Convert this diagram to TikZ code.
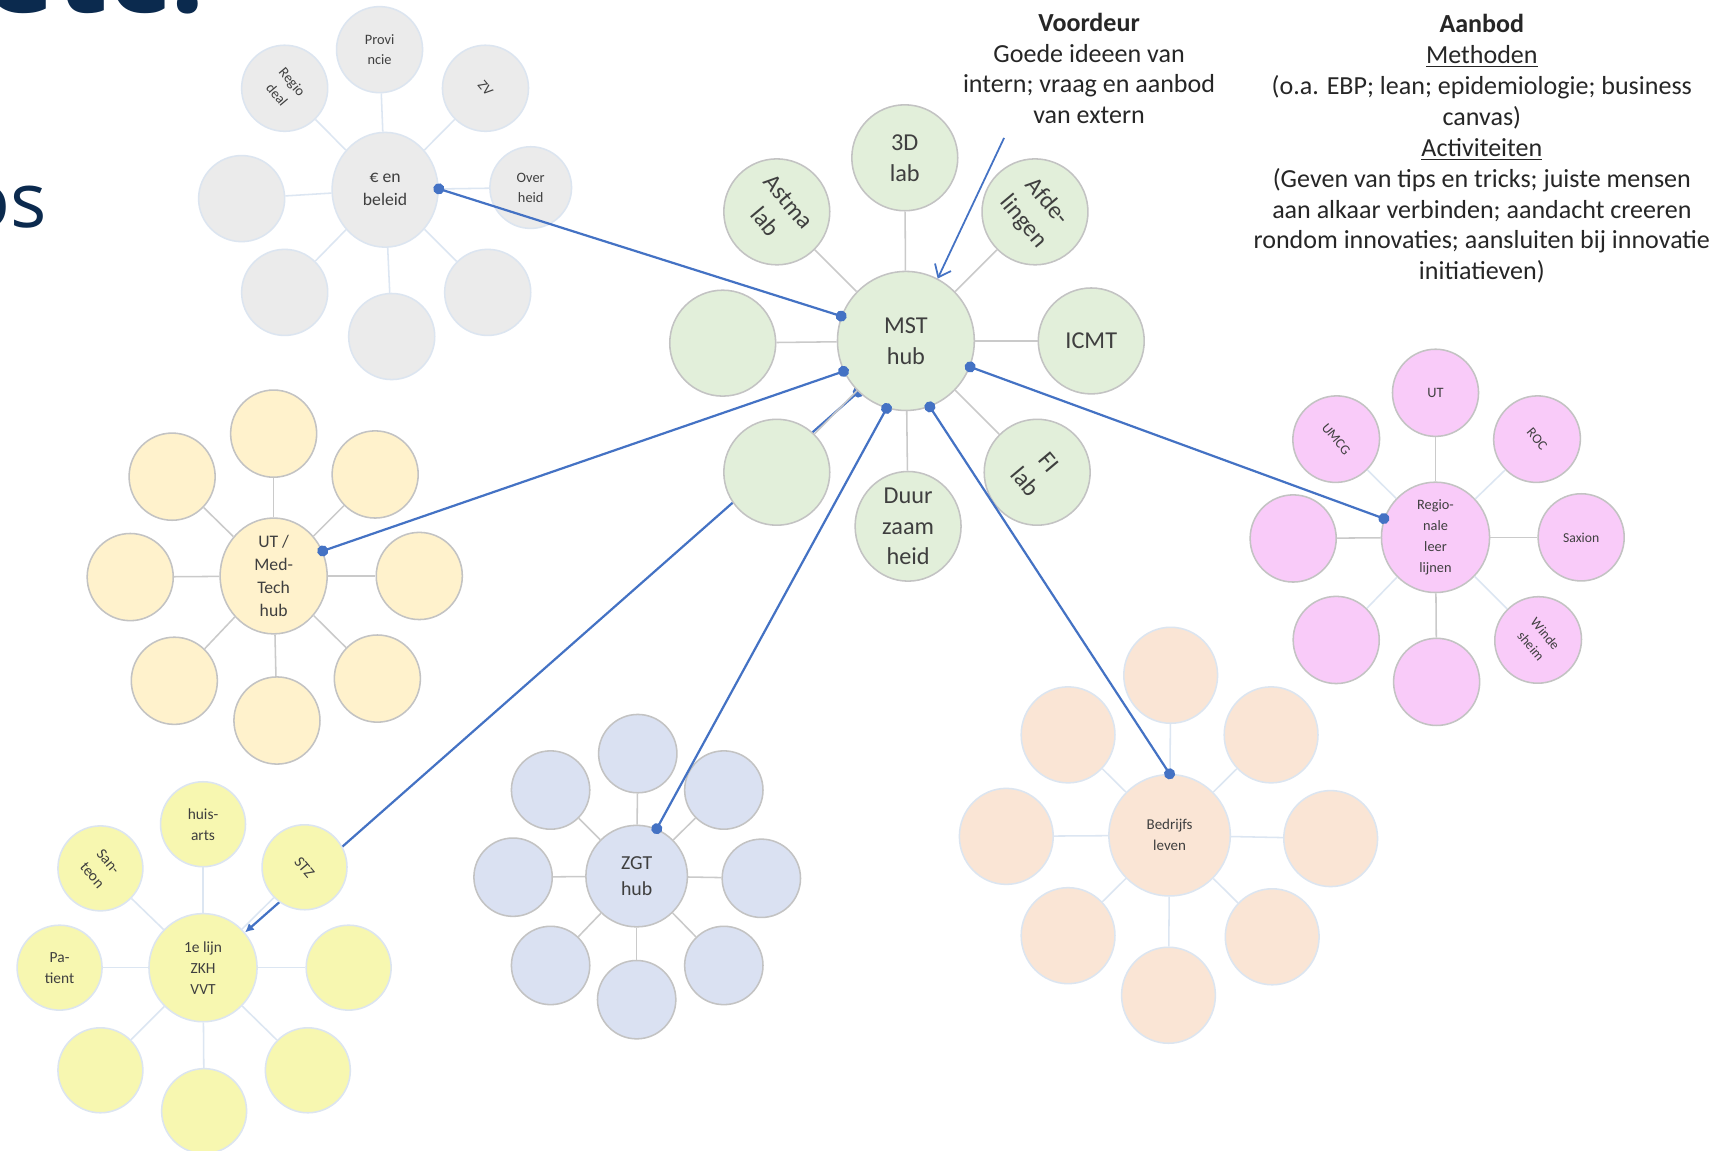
\documentclass[tikz,border=0pt]{standalone}
\usepackage{fontspec}
\setmainfont{Carlito}
\newfontfamily\titlefont{Open Sans}
\usetikzlibrary{shapes.geometric,arrows.meta,calc}
\pgfdeclarelayer{back}
\pgfdeclarelayer{bg}
\pgfsetlayers{back,bg,main}
\definecolor{cblue}{HTML}{4472C4}
\definecolor{navy}{HTML}{0B2A4E}
\definecolor{txt}{HTML}{3F3F3F}
\definecolor{annot}{HTML}{262626}
\definecolor{grayf}{HTML}{EBEBEB}
\definecolor{lblueb}{HTML}{DCE5F0}
\definecolor{grayb}{HTML}{C3C3C3}
\definecolor{greenf}{HTML}{E2EFDA}
\definecolor{utf}{HTML}{FFF2CC}
\definecolor{yelf}{HTML}{F7F7B0}
\definecolor{lavf}{HTML}{DAE1F2}
\definecolor{peachf}{HTML}{FAE5D5}
\definecolor{pinkf}{HTML}{F9CBF9}
\definecolor{spokeg}{HTML}{CACACA}
\definecolor{spokeb}{HTML}{DCE6F2}
\newcommand{\fsz}[2]{\fontsize{#1}{#2}\selectfont}
\tikzset{
  bub/.style={ellipse, draw, line width=0.7pt, inner sep=0pt, align=center, text=txt},
  grayhub/.style={bub, fill=grayf, draw=lblueb, minimum width=48pt, minimum height=52pt, font=\fsz{8pt}{10.5pt}},
  graysat/.style={bub, fill=grayf, draw=lblueb, minimum width=39pt, minimum height=39pt, font=\fsz{6.5pt}{9pt}},
  greenhub/.style={bub, fill=greenf, draw=grayb, minimum width=62pt, minimum height=63pt, font=\fsz{11pt}{14pt}},
  greensat/.style={bub, fill=greenf, draw=grayb, minimum width=48pt, minimum height=48pt, font=\fsz{11pt}{14pt}},
  uthub/.style={bub, fill=utf, draw=grayb, minimum width=48.5pt, minimum height=50pt, font=\fsz{8pt}{10.5pt}},
  utsat/.style={bub, fill=utf, draw=grayb, minimum width=39pt, minimum height=39.5pt},
  yelhub/.style={bub, fill=yelf, draw=lblueb, minimum width=49pt, minimum height=49pt, font=\fsz{7pt}{9.5pt}},
  yelsat/.style={bub, fill=yelf, draw=lblueb, minimum width=38.5pt, minimum height=38.5pt, font=\fsz{7pt}{9.5pt}},
  lavhub/.style={bub, fill=lavf, draw=grayb, minimum width=46pt, minimum height=46pt, font=\fsz{9pt}{12pt}},
  lavsat/.style={bub, fill=lavf, draw=grayb, minimum width=35.5pt, minimum height=35.5pt},
  peachhub/.style={bub, fill=peachf, draw=lblueb, minimum width=55pt, minimum height=55pt, font=\fsz{6.8pt}{9.5pt}},
  peachsat/.style={bub, fill=peachf, draw=lblueb, minimum width=42.5pt, minimum height=43.5pt},
  pinkhub/.style={bub, fill=pinkf, draw=grayb, minimum width=49pt, minimum height=50pt, font=\fsz{6.5pt}{9.5pt}},
  pinksat/.style={bub, fill=pinkf, draw=grayb, minimum width=39pt, minimum height=39.5pt, font=\fsz{6.2pt}{8.5pt}},
  spokeG/.style={draw=spokeg, line width=0.7pt},
  spokeB/.style={draw=spokeb, line width=0.7pt},
  conn/.style={draw=cblue, line width=1pt, {Circle[length=5pt]}-{Circle[length=5pt]}, shorten <=-2.5pt, shorten >=-2.5pt},
  annotxt/.style={align=center, inner sep=0pt, text=annot, font=\fsz{11.8pt}{14pt}},
  rot/.style={rotate=-50}
}
\begin{document}
\begin{tikzpicture}[x=0.5pt,y=-0.5pt]
\begin{pgfonlayer}{back}
\fill[white] (0,0) rectangle (1567,1043);
\end{pgfonlayer}
\useasboundingbox (0,0) rectangle (1567,1043);

% title fragments
\node[anchor=base west, inner sep=0pt, text=navy, font=\titlefont\bfseries\fsz{55pt}{60pt}] (ttlA) at (-15,11) {etc.};
\node[anchor=base east, inner sep=0pt, text=navy, font=\titlefont\fsz{34.5pt}{40pt}] (ttlB) at (43,206) {os};

% annotations
\node[annotxt] (voordeur) at (987,62) {\textbf{Voordeur}\\Goede ideeen van\\intern; vraag en aanbod\\van extern};
\node[annotxt] (aanbod) at (1343,135) {\textbf{Aanbod}\\\underline{Methoden}\\(o.a. EBP; lean; epidemiologie; business\\canvas)\\\underline{Activiteiten}\\(Geven van tips en tricks; juiste mensen\\aan alkaar verbinden; aandacht creeren\\rondom innovaties; aansluiten bij innovatie\\initiatieven)};

% group: euro en beleid
\node[grayhub] (eb) at (349,172) {€ en\\beleid};
\node[graysat] (eb1) at (344,45) {Provi\\ncie};
\node[graysat,rot] (eb2) at (258,80) {Regio\\deal};
\node[graysat,rot] (eb3) at (440,80) {ZV};
\node[graysat,minimum width=37pt,minimum height=37pt] (eb4) at (481,170) {Over\\heid};
\node[graysat] (eb5) at (219,180) {};
\node[graysat] (eb6) at (258,265) {};
\node[graysat] (eb7) at (355,305) {};
\node[graysat] (eb8) at (442,265) {};
\foreach \i in {1,...,8} \draw[spokeB] (eb) -- (eb\i);

% group: MST hub
\node[greenhub] (mst) at (821,309) {MST\\hub};
\node[greensat] (ms1) at (820,143) {3D\\lab};
\node[greensat,rot] (ms2) at (704,192) {Astma\\lab};
\node[greensat,rot] (ms3) at (938,192) {Afde-\\lingen};
\node[greensat] (ms4) at (989,309) {ICMT};
\node[greensat] (ms5) at (655,311) {};
\node[greensat] (ms6) at (704,428) {};
\node[greensat] (ms7) at (823,477) {Duur\\zaam\\heid};
\node[greensat,rot] (ms8) at (940,428) {FI\\lab};
\foreach \i in {1,...,8} \draw[spokeG] (mst) -- (ms\i);

% group: UT / Med-Tech hub
\node[uthub] (ut) at (248,522) {UT /\\Med-\\Tech\\hub};
\node[utsat] (ut1) at (248,393) {};
\node[utsat] (ut2) at (156,432) {};
\node[utsat] (ut3) at (340,430) {};
\node[utsat] (ut4) at (118,523) {};
\node[utsat] (ut5) at (380,522) {};
\node[utsat] (ut6) at (158,617) {};
\node[utsat] (ut7) at (251,653) {};
\node[utsat] (ut8) at (342,615) {};
\foreach \i in {1,...,8} \draw[spokeG] (ut) -- (ut\i);

% group: 1e lijn
\node[yelhub] (zl) at (184,877) {1e lijn\\ZKH\\VVT};
\node[yelsat] (zl1) at (184,747) {huis-\\arts};
\node[yelsat,rot] (zl2) at (91,787) {San-\\teon};
\node[yelsat,rot] (zl3) at (276,786) {STZ};
\node[yelsat] (zl4) at (54,877) {Pa-\\tient};
\node[yelsat] (zl5) at (316,877) {};
\node[yelsat] (zl6) at (91,970) {};
\node[yelsat] (zl7) at (185,1007) {};
\node[yelsat] (zl8) at (279,970) {};
\foreach \i in {1,...,8} \draw[spokeB] (zl) -- (zl\i);

% group: ZGT hub
\node[lavhub] (zgt) at (577,794) {ZGT\\hub};
\node[lavsat] (zg1) at (578,683) {};
\node[lavsat] (zg2) at (499,716) {};
\node[lavsat] (zg3) at (656,716) {};
\node[lavsat] (zg4) at (465,795) {};
\node[lavsat] (zg5) at (690,796) {};
\node[lavsat] (zg6) at (499,875) {};
\node[lavsat] (zg7) at (577,906) {};
\node[lavsat] (zg8) at (656,875) {};
\foreach \i in {1,...,8} \draw[spokeG] (zgt) -- (zg\i);

% group: Bedrijfs leven
\node[peachhub] (bl) at (1060,757) {Bedrijfs\\leven};
\node[peachsat] (bl1) at (1061,612) {};
\node[peachsat] (bl2) at (968,666) {};
\node[peachsat] (bl3) at (1152,666) {};
\node[peachsat] (bl4) at (912,758) {};
\node[peachsat] (bl5) at (1206,760) {};
\node[peachsat] (bl6) at (968,848) {};
\node[peachsat] (bl7) at (1059,902) {};
\node[peachsat] (bl8) at (1153,849) {};
\foreach \i in {1,...,8} \draw[spokeB] (bl) -- (bl\i);

% group: Regionale leerlijnen
\node[pinkhub] (rl) at (1301,487) {Regio-\\nale\\leer\\lijnen};
\node[pinksat,font=\fsz{6.5pt}{9pt}] (rl1) at (1301,356) {UT};
\node[pinksat,rot] (rl2) at (1211,398) {UMCG};
\node[pinksat,rot] (rl3) at (1393,398) {ROC};
\node[pinksat] (rl4) at (1172,488) {};
\node[pinksat] (rl5) at (1433,487) {Saxion};
\node[pinksat] (rl6) at (1211,580) {};
\node[pinksat] (rl7) at (1302,618) {};
\node[pinksat,rot] (rl8) at (1394,580) {Winde\\sheim};
\foreach \i in {1,4,5,7} \draw[spokeG] (rl) -- (rl\i);
\foreach \i in {2,3,6,8} \draw[spokeB] (rl) -- (rl\i);

% connector behind bubbles
\begin{pgfonlayer}{bg}
\draw[draw=cblue, line width=1pt, {Circle[length=5pt]}-{Latex[length=4pt,width=4pt]}, shorten <=-2.5pt] (mst.227) -- (zl.40);
\end{pgfonlayer}

% connectors on top
\draw[conn] (mst.159) -- (eb.1);
\draw[conn] (mst.206.6) -- (ut.27.6);
\draw[conn] (mst.254.4) -- (zgt.67.7);
\draw[conn] (mst.290) -- (bl.90);
\draw[conn] (mst.338) -- (rl.160);
\coordinate (vd) at (910,125);
\draw[draw=cblue, line width=0.8pt, -{Straight Barb[length=5pt,width=8pt]}] (vd) -- (mst.63);
\end{tikzpicture}
\end{document}
